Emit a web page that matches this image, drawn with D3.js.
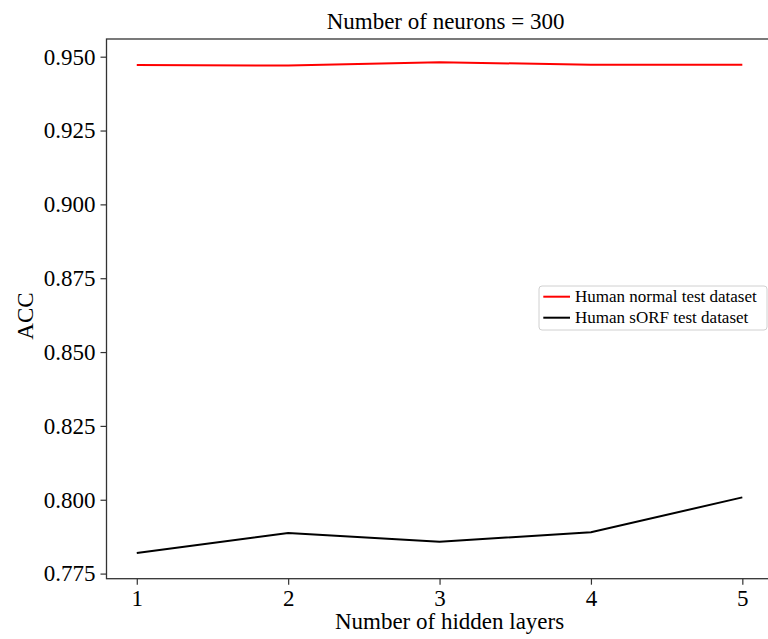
<!DOCTYPE html>
<html>
<head>
<meta charset="utf-8">
<script src="https://cdn.jsdelivr.net/npm/d3@7"></script>
<style>
  body { margin: 0; background: #fff; }
  svg { display: block; overflow: hidden; }
  svg text { font-family: "Liberation Serif", "DejaVu Serif", serif !important; fill: #000; }
</style>
</head>
<body>
<div id="chart"></div>
<script>
const layers = [1, 2, 3, 4, 5];
const normalAcc = [0.9472, 0.9470, 0.9481, 0.9473, 0.9473];
const sorfAcc = [0.7820, 0.7887, 0.7858, 0.7890, 0.8008];
const yTicks = [0.775, 0.800, 0.825, 0.850, 0.875, 0.900, 0.925, 0.950];
const seriesNames = ['Human normal test dataset', 'Human sORF test dataset'];

const W = 768;
const H = 639;
const margin = { top: 39, left: 106.5, bottom: 578.7, right: 772.6 };

const svg = d3.select('#chart')
  .append('svg')
  .attr('width', W)
  .attr('height', H);

const xScale = d3.scaleLinear()
  .domain([0.8, 5.2])
  .range([margin.left, margin.right]);

const yScale = d3.scaleLinear()
  .domain([0.77327, 0.95599])
  .range([margin.bottom, margin.top]);

// axes
const xAxis = d3.axisBottom(xScale)
  .tickValues(layers)
  .tickFormat(d3.format('d'))
  .tickSize(6)
  .tickPadding(5);

const yAxis = d3.axisLeft(yScale)
  .tickValues(yTicks)
  .tickFormat(d3.format('.3f'))
  .tickSize(6)
  .tickPadding(5);

const gx = svg.append('g')
  .attr('transform', `translate(0,${margin.bottom})`)
  .call(xAxis);
const gy = svg.append('g')
  .attr('transform', `translate(${margin.left},0)`)
  .call(yAxis);

[gx, gy].forEach((g) => {
  g.attr('font-family', 'Liberation Serif').attr('font-size', 23);
  g.select('.domain').remove();
  g.selectAll('.tick line').attr('stroke', '#333').attr('stroke-width', 1.2);
  g.selectAll('.tick text').attr('fill', '#000');
});

// frame
svg.append('rect')
  .attr('x', margin.left)
  .attr('y', margin.top)
  .attr('width', margin.right - margin.left)
  .attr('height', margin.bottom - margin.top)
  .attr('fill', 'none')
  .attr('stroke', '#333')
  .attr('stroke-width', 1.3);

const line = d3.line()
  .x((d, i) => xScale(layers[i]))
  .y((d) => yScale(d));

const colors = ['#ff0000', '#000000'];

[normalAcc, sorfAcc].forEach((vals, k) => {
  svg.append('path')
    .datum(vals)
    .attr('fill', 'none')
    .attr('stroke', colors[k])
    .attr('stroke-width', 2)
    .attr('d', line);
});

// title and labels
svg.append('text')
  .attr('x', (margin.left + margin.right) / 2 + 6)
  .attr('y', 29)
  .attr('text-anchor', 'middle')
  .style('font-size', '23px')
  .text('Number of neurons = 300');

svg.append('text')
  .attr('x', (margin.left + margin.right) / 2 + 10)
  .attr('y', 629)
  .attr('text-anchor', 'middle')
  .style('font-size', '23px')
  .text('Number of hidden layers');

svg.append('text')
  .attr('transform', 'translate(33,316) rotate(-90)')
  .attr('text-anchor', 'middle')
  .style('font-size', '23px')
  .text('ACC');

// legend
const legend = svg.append('g')
  .attr('transform', 'translate(539,286)');

legend.append('rect')
  .attr('width', 228)
  .attr('height', 44)
  .attr('rx', 3)
  .attr('fill', '#fff')
  .attr('fill-opacity', 0.8)
  .attr('stroke', '#d0d0d0');

const item = legend.selectAll('.item')
  .data(seriesNames)
  .enter()
  .append('g')
  .attr('class', 'item')
  .attr('transform', (_, i) => `translate(0,${10.7 + i * 21})`);

item.append('line')
  .attr('x1', 4.3)
  .attr('x2', 31)
  .attr('stroke', (_, i) => colors[i])
  .attr('stroke-width', 2);

item.append('text')
  .attr('x', 36)
  .attr('y', 5.5)
  .style('font-size', '17px')
  .text((d) => d);
</script>
</body>
</html>
